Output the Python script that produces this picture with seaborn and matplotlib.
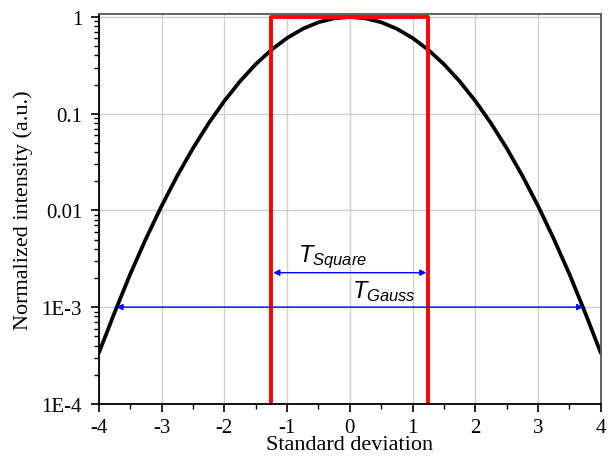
import numpy as np
import pandas as pd
import matplotlib
matplotlib.use('Agg')
import matplotlib.pyplot as plt
from matplotlib.ticker import LogLocator, MultipleLocator, FixedLocator, NullFormatter
import seaborn as sns

# Gaussian profile (standard deviation vs normalized intensity)
sd = [-4.0, -3.75, -3.5, -3.25, -3.0, -2.75, -2.5, -2.25, -2.0, -1.75, -1.5, -1.25, -1.0,
      -0.75, -0.5, -0.25, 0.0, 0.25, 0.5, 0.75, 1.0, 1.25, 1.5, 1.75, 2.0, 2.25, 2.5,
      2.75, 3.0, 3.25, 3.5, 3.75, 4.0]
intensity = [0.000335, 0.000874, 0.00219, 0.00508, 0.0111, 0.0228, 0.0439, 0.0796, 0.1353,
             0.2163, 0.3247, 0.4578, 0.6065, 0.7548, 0.8825, 0.9692, 1.0, 0.9692, 0.8825,
             0.7548, 0.6065, 0.4578, 0.3247, 0.2163, 0.1353, 0.0796, 0.0439, 0.0228, 0.0111,
             0.00508, 0.00219, 0.000874, 0.000335]

# Square profile
square_x = [-1.25, -1.25, 1.25, 1.25]
square_y = [1e-4, 1.0, 1.0, 1e-4]

# Widths (half widths) and levels of the arrows
t_square_half = 1.22
t_square_level = 0.00227
t_gauss_half = 3.72
t_gauss_level = 0.001

y_ticks = [1e-4, 1e-3, 1e-2, 1e-1, 1]
y_tick_labels = ['1E-4', '1E-3', '0.01', '0.1', '1']
x_ticks = [-4, -3, -2, -1, 0, 1, 2, 3, 4]

gauss = pd.DataFrame({'sd': sd, 'intensity': intensity})
square = pd.DataFrame({'sd': square_x, 'intensity': square_y})

sns.set_theme(style='whitegrid')
plt.rcParams['font.family'] = ['Liberation Serif', 'DejaVu Serif']
plt.rcParams['mathtext.fontset'] = 'custom'
plt.rcParams['mathtext.it'] = 'Liberation Sans:italic'
plt.rcParams['mathtext.rm'] = 'Liberation Sans'

fig = plt.figure(figsize=(6.1, 4.6), dpi=100)
ax = fig.add_axes([0.162, 0.12, 0.823, 0.847])

sns.lineplot(data=gauss, x='sd', y='intensity', color='black', linewidth=2.7, ax=ax,
             sort=False, estimator=None)
sns.lineplot(data=square, x='sd', y='intensity', color='#ff0000', linewidth=2.8, ax=ax,
             sort=False, estimator=None)

ax.set_yscale('log')
ax.set_xlim(-4, 4)
ax.set_ylim(1e-4, 1.07)

# Arrows
arrow = dict(arrowstyle='<|-|>', color='#0000ff', lw=1.0, mutation_scale=9, shrinkA=0, shrinkB=0)
ax.annotate('', xy=(-t_square_half, t_square_level), xytext=(t_square_half, t_square_level),
            arrowprops=arrow)
ax.annotate('', xy=(-t_gauss_half, t_gauss_level), xytext=(t_gauss_half, t_gauss_level),
            arrowprops=arrow)
ax.text(-0.83, 0.0030, r'$T_{Square}$', fontsize=17, ha='left', va='baseline', color='black')
ax.text(0.03, 0.00128, r'$T_{Gauss}$', fontsize=17, ha='left', va='baseline', color='black')

# Ticks and grid
ax.xaxis.set_major_locator(FixedLocator(x_ticks))
ax.xaxis.set_minor_locator(MultipleLocator(0.5))
ax.set_xticklabels([str(v) for v in x_ticks])
ax.yaxis.set_major_locator(FixedLocator(y_ticks))
ax.set_yticklabels(y_tick_labels)
ax.yaxis.set_minor_locator(LogLocator(base=10, subs=np.arange(2, 10), numticks=20))
ax.yaxis.set_minor_formatter(NullFormatter())

ax.grid(True, which='major', color='#d0d0d0', linewidth=1.0)
ax.grid(False, which='minor')
ax.tick_params(axis='both', which='major', direction='out', length=6, width=1.2,
               color='black', labelsize=15, pad=4, bottom=True, left=True)
ax.tick_params(axis='y', which='major', pad=6)
ax.tick_params(axis='both', which='minor', direction='out', length=3.5, width=1.0,
               color='black', bottom=True, left=True)

for side in ['left', 'bottom']:
    ax.spines[side].set_color('black')
    ax.spines[side].set_linewidth(1.3)
for side in ['top', 'right']:
    ax.spines[side].set_color('#555555')
    ax.spines[side].set_linewidth(1.3)

ax.set_xlabel('Standard deviation', fontsize=16, labelpad=-1, color='black')
ax.set_ylabel('Normalized intensity (a.u.)', fontsize=16, labelpad=6, color='black')
ax.tick_params(labelcolor='black')

fig.savefig('out.png', dpi=100)
